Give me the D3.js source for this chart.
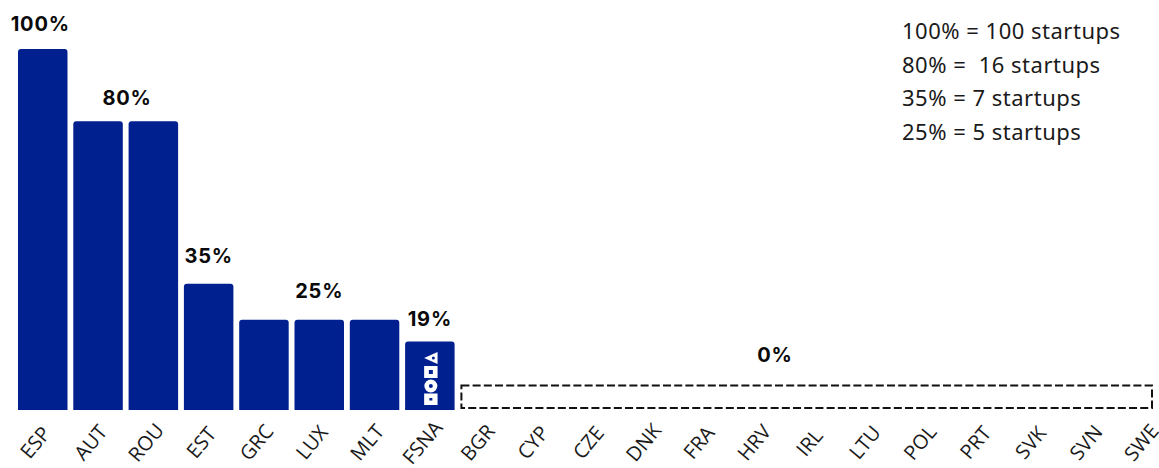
<!DOCTYPE html>
<html><head><meta charset="utf-8">
<script src="https://cdn.jsdelivr.net/npm/d3@7"></script>
<style>html,body{margin:0;padding:0;background:#fff}svg{display:block}</style>
</head><body><svg id="c" width="1159" height="468"></svg>
<script>
const categories=["ESP","AUT","ROU","EST","GRC","LUX","MLT","FSNA","BGR","CYP","CZE","DNK","FRA","HRV","IRL","LTU","POL","PRT","SVK","SVN","SWE"];
const values=[100,80,80,35,25,25,25,19,0,0,0,0,0,0,0,0,0,0,0,0,0];
const labelTexts=["100%","80%","35%","25%","19%"];
const labelHosts=["ESP","AUT","EST","LUX","FSNA"];
const labelValues=[100,80,35,25,19];
const legendLines=["100% = 100 startups","80% =  16 startups","35% = 7 startups","25% = 5 startups"];
const zeroLabel="0%";
const zeroFrom="BGR",zeroTo="SWE",zeroBoxValue=6.9;
const BLUE="#00208f";
const svg=d3.select("#c");
const x=d3.scaleBand().domain(categories).range([18,1173.5]).paddingInner(0.105).paddingOuter(0);
const y=d3.scaleLinear().domain([0,100]).range([410,49]);
const bw=x.bandwidth();
function topRounded(X,Y,W,H,r){return `M${X},${Y+H}V${Y+r}Q${X},${Y} ${X+r},${Y}H${X+W-r}Q${X+W},${Y} ${X+W},${Y+r}V${Y+H}Z`;}
svg.append("g").selectAll("path").data(categories.map((c,i)=>({c,v:values[i]})).filter(d=>d.v>0)).join("path")
 .attr("d",d=>topRounded(x(d.c),y(d.v),bw,y(0)-y(d.v),3)).attr("fill",BLUE);
// zero box
const bx0=x(zeroFrom)+1,bx1=x(zeroTo)+28;
svg.append("rect").attr("x",bx0).attr("y",y(zeroBoxValue)+.5).attr("width",bx1-bx0).attr("height",y(0)-y(zeroBoxValue)-2.5)
 .attr("fill","none").attr("stroke","#111").attr("stroke-width",2).attr("stroke-dasharray","8 3.2");
// value labels
const lab=svg.append("g").attr("font-family","Inter, Lato, sans-serif").attr("font-weight",700).attr("font-size",20).attr("letter-spacing",0.8).attr("fill","#0a0a0a").attr("text-anchor","middle");
const labelDx=[-2.5,29,0,0,0];
const labelDy=[18,16.5,21,22,15];
labelTexts.forEach((t,i)=>{
 lab.append("text").attr("x",x(labelHosts[i])+bw/2+labelDx[i]).attr("y",y(labelValues[i])-labelDy[i]).text(t);
});
lab.append("text").attr("x",775).attr("y",362).text(zeroLabel);
// axis
const axis=svg.append("g").attr("transform","translate(0,410)").call(d3.axisBottom(x).tickSize(0).tickPadding(0));
axis.select(".domain").remove();
axis.selectAll("text").attr("font-family","'Open Sans', sans-serif").attr("font-size",20).attr("fill","#1a1a1a")
 .attr("text-anchor","middle").attr("dy",0).attr("y",0)
 .attr("transform","translate(-2,37) rotate(-50)");
// logo
const lg=svg.append("g").attr("fill","#fff");
const lx=x("FSNA")+bw/2+1;
lg.append("path").attr("d",d3.line()([[lx+6.7,352],[lx+6.7,364],[lx-6.7,358]])+"Z");
lg.append("rect").attr("x",lx-6.7).attr("y",366).attr("width",13.4).attr("height",12);
lg.append("circle").attr("cx",lx).attr("cy",386).attr("r",6.5);
lg.append("rect").attr("x",lx-6.7).attr("y",393.5).attr("width",13.4).attr("height",11.5);
const ld=svg.append("g").attr("fill",BLUE);
ld.append("circle").attr("cx",lx+2.5).attr("cy",358).attr("r",1.5);
ld.append("rect").attr("x",lx-2).attr("y",370).attr("width",4).attr("height",4);
ld.append("circle").attr("cx",lx).attr("cy",386).attr("r",2);
ld.append("rect").attr("x",lx-1.5).attr("y",398).attr("width",3).attr("height",2.5);
// legend
svg.append("g").attr("font-family","'Noto Sans', sans-serif").attr("font-size",22).attr("letter-spacing",0.5).attr("fill","#1a1a1a")
 .selectAll("text").data(legendLines).join("text").attr("x",902).attr("y",(d,i)=>39+i*33.7).style("white-space","pre").text(d=>d);
</script></body></html>
